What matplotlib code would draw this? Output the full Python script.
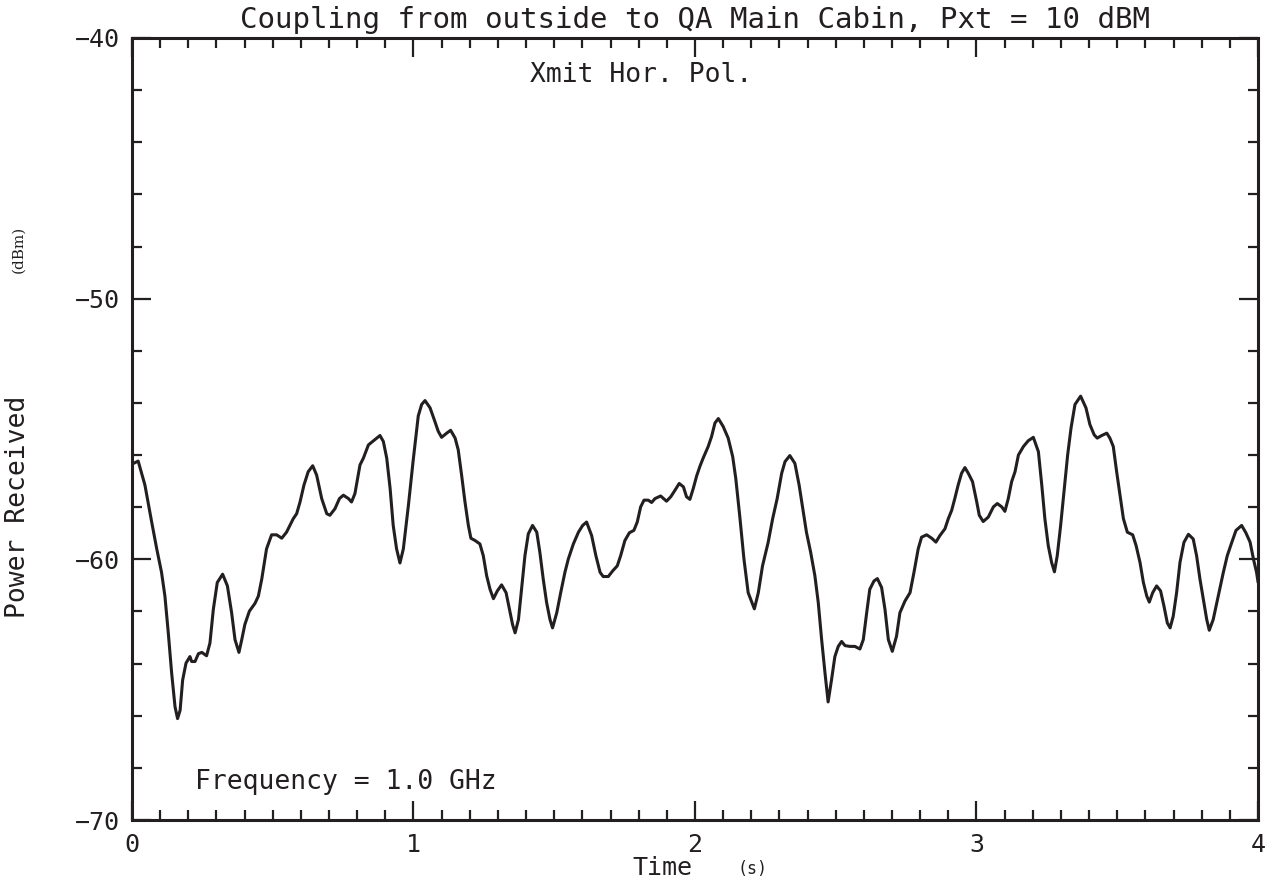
import matplotlib.pyplot as plt
from matplotlib.ticker import MultipleLocator

# Received power vs time, 1.0 GHz, horizontal transmit polarisation
time_s = [
    0.000, 0.022, 0.046, 0.070, 0.088, 0.105, 0.117, 0.129, 0.141, 0.153,
    0.162, 0.171, 0.180, 0.192, 0.206, 0.212, 0.224, 0.236, 0.248, 0.265,
    0.277, 0.289, 0.303, 0.322, 0.339, 0.354, 0.366, 0.380, 0.390, 0.401,
    0.417, 0.437, 0.449, 0.461, 0.478, 0.496, 0.514, 0.532, 0.549, 0.573,
    0.585, 0.597, 0.611, 0.626, 0.642, 0.656, 0.674, 0.692, 0.703, 0.721,
    0.737, 0.751, 0.769, 0.780, 0.792, 0.810, 0.822, 0.840, 0.863, 0.881,
    0.893, 0.905, 0.917, 0.928, 0.940, 0.952, 0.964, 0.982, 0.999, 1.017,
    1.029, 1.041, 1.059, 1.076, 1.088, 1.100, 1.118, 1.132, 1.148, 1.159,
    1.171, 1.183, 1.195, 1.204, 1.219, 1.236, 1.248, 1.260, 1.272, 1.284,
    1.298, 1.313, 1.329, 1.341, 1.352, 1.361, 1.373, 1.384, 1.396, 1.408,
    1.423, 1.438, 1.449, 1.461, 1.473, 1.485, 1.494, 1.509, 1.523, 1.538,
    1.550, 1.568, 1.586, 1.601, 1.615, 1.633, 1.648, 1.663, 1.674, 1.692,
    1.708, 1.724, 1.736, 1.751, 1.767, 1.783, 1.795, 1.807, 1.819, 1.834,
    1.846, 1.858, 1.878, 1.899, 1.914, 1.929, 1.944, 1.959, 1.970, 1.982,
    1.994, 2.006, 2.018, 2.029, 2.047, 2.059, 2.071, 2.083, 2.100, 2.118,
    2.134, 2.145, 2.160, 2.174, 2.189, 2.211, 2.225, 2.240, 2.260, 2.276,
    2.292, 2.308, 2.320, 2.337, 2.355, 2.370, 2.385, 2.396, 2.411, 2.426,
    2.438, 2.450, 2.462, 2.473, 2.485, 2.497, 2.509, 2.521, 2.533, 2.550,
    2.568, 2.586, 2.598, 2.610, 2.621, 2.636, 2.648, 2.663, 2.675, 2.687,
    2.701, 2.716, 2.728, 2.746, 2.764, 2.778, 2.793, 2.805, 2.823, 2.841,
    2.856, 2.870, 2.888, 2.900, 2.912, 2.923, 2.935, 2.947, 2.959, 2.971,
    2.986, 3.001, 3.010, 3.024, 3.042, 3.060, 3.074, 3.090, 3.101, 3.113,
    3.125, 3.137, 3.149, 3.167, 3.184, 3.202, 3.220, 3.232, 3.243, 3.255,
    3.267, 3.277, 3.287, 3.299, 3.312, 3.324, 3.336, 3.350, 3.370, 3.389,
    3.403, 3.418, 3.429, 3.445, 3.463, 3.474, 3.486, 3.498, 3.510, 3.522,
    3.536, 3.555, 3.567, 3.581, 3.593, 3.605, 3.614, 3.626, 3.640, 3.654,
    3.666, 3.678, 3.688, 3.699, 3.711, 3.723, 3.737, 3.753, 3.770, 3.782,
    3.794, 3.806, 3.818, 3.827, 3.841, 3.859, 3.877, 3.891, 3.907, 3.922,
    3.942, 3.957, 3.972, 3.984, 3.995, 4.000,
]
power_dbm = [
    -56.35, -56.23, -57.15, -58.57, -59.60, -60.50, -61.41, -62.82, -64.37, -65.66,
    -66.11, -65.79, -64.63, -63.98, -63.73, -63.92, -63.92, -63.62, -63.57, -63.70,
    -63.21, -61.92, -60.89, -60.57, -61.02, -62.05, -63.08, -63.57, -63.08, -62.50,
    -61.99, -61.69, -61.41, -60.76, -59.60, -59.06, -59.06, -59.19, -58.96, -58.44,
    -58.25, -57.80, -57.15, -56.64, -56.41, -56.77, -57.67, -58.25, -58.31, -58.06,
    -57.67, -57.54, -57.67, -57.80, -57.48, -56.38, -56.12, -55.61, -55.41, -55.25,
    -55.48, -56.12, -57.28, -58.70, -59.60, -60.14, -59.60, -57.93, -56.20, -54.50,
    -54.06, -53.91, -54.19, -54.71, -55.09, -55.32, -55.16, -55.05, -55.35, -55.80,
    -56.77, -57.80, -58.70, -59.19, -59.28, -59.41, -59.86, -60.63, -61.15, -61.51,
    -61.21, -60.98, -61.28, -61.92, -62.50, -62.82, -62.31, -61.15, -59.86, -59.02,
    -58.70, -58.96, -59.73, -60.76, -61.66, -62.31, -62.63, -62.05, -61.28, -60.50,
    -59.99, -59.41, -58.96, -58.70, -58.57, -59.09, -59.86, -60.50, -60.66, -60.66,
    -60.44, -60.25, -59.86, -59.28, -58.98, -58.89, -58.57, -57.99, -57.73, -57.73,
    -57.82, -57.67, -57.57, -57.77, -57.60, -57.35, -57.09, -57.22, -57.60, -57.70,
    -57.28, -56.80, -56.42, -56.12, -55.67, -55.29, -54.77, -54.60, -54.90, -55.35,
    -56.06, -56.90, -58.44, -59.99, -61.28, -61.90, -61.28, -60.25, -59.35, -58.44,
    -57.67, -56.70, -56.25, -56.02, -56.32, -57.15, -58.18, -58.96, -59.73, -60.63,
    -61.66, -63.08, -64.37, -65.47, -64.63, -63.73, -63.34, -63.15, -63.31, -63.34,
    -63.34, -63.44, -63.08, -62.05, -61.15, -60.83, -60.74, -61.08, -61.92, -63.08,
    -63.53, -62.95, -62.05, -61.60, -61.28, -60.50, -59.60, -59.15, -59.06, -59.19,
    -59.34, -59.09, -58.83, -58.44, -58.12, -57.67, -57.15, -56.70, -56.48, -56.70,
    -57.02, -57.80, -58.31, -58.55, -58.38, -57.99, -57.86, -57.99, -58.16, -57.67,
    -57.02, -56.64, -56.00, -55.67, -55.45, -55.32, -55.87, -57.15, -58.44, -59.47,
    -60.12, -60.48, -59.86, -58.70, -57.28, -55.99, -54.96, -54.06, -53.74, -54.19,
    -54.83, -55.22, -55.35, -55.25, -55.16, -55.35, -55.67, -56.64, -57.54, -58.44,
    -58.96, -59.06, -59.47, -60.12, -60.89, -61.41, -61.64, -61.28, -61.02, -61.21,
    -61.79, -62.44, -62.63, -62.18, -61.28, -60.12, -59.35, -59.04, -59.22, -59.86,
    -60.76, -61.54, -62.31, -62.72, -62.31, -61.41, -60.50, -59.86, -59.35, -58.89,
    -58.70, -58.98, -59.34, -59.99, -60.50, -60.85,
]

ink = '#231f20'
mono = 'DejaVu Sans Mono'
plt.rcParams['font.family'] = mono

fig = plt.figure(figsize=(12.69, 8.89), dpi=100)
ax = fig.add_axes([0.104, 0.0776, 0.8873, 0.8797])

ax.plot(time_s, power_dbm, color=ink, lw=2.2)

ax.set_xlim(0, 4)
ax.set_ylim(-70, -40)
ax.xaxis.set_major_locator(MultipleLocator(1))
ax.xaxis.set_minor_locator(MultipleLocator(0.1))
ax.yaxis.set_major_locator(MultipleLocator(10))
ax.yaxis.set_minor_locator(MultipleLocator(2))
ax.tick_params(which='both', direction='in', top=True, right=True,
               color=ink, labelcolor=ink, width=1.6, labelsize=18)
ax.tick_params(which='major', length=14, pad=9)
ax.tick_params(which='minor', length=7)
for s in ax.spines.values():
    s.set_linewidth(2.2)
    s.set_color(ink)

ax.set_title('Coupling from outside to QA Main Cabin, Pxt = 10 dBM',
             fontsize=21, color=ink, pad=7)
ax.text(0.452, 0.953, 'Xmit Hor. Pol.', transform=ax.transAxes,
        ha='center', va='center', fontsize=19, color=ink)
ax.text(0.056, 0.049, 'Frequency = 1.0 GHz', transform=ax.transAxes,
        ha='left', va='center', fontsize=19, color=ink)

# axis titles, with the units set smaller
fig.text(0.0142, 0.43, 'Power Received', rotation=90, ha='center',
         va='center', fontsize=19, color=ink)
fig.text(0.0142, 0.72, '(dBm)', rotation=90, ha='center', va='center',
         fontsize=11, color=ink, family='DejaVu Serif')
fig.text(0.522, 0.024, 'Time', ha='center', va='center', fontsize=18, color=ink)
fig.text(0.593, 0.022, '(s)', ha='center', va='center', fontsize=12, color=ink)

fig.savefig('out.png', dpi=100, facecolor='white')
